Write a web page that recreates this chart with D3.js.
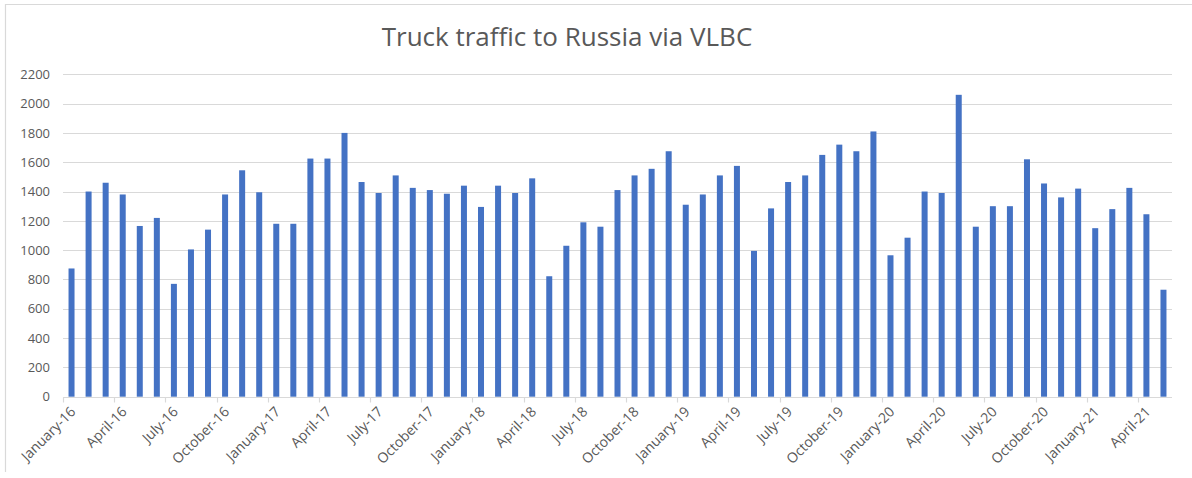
<!DOCTYPE html>
<html>
<head>
<meta charset="utf-8">
<script src="https://cdn.jsdelivr.net/npm/d3@7"></script>
<style>
  html, body { margin: 0; padding: 0; background: #fff; }
  svg { display: block; }
</style>
</head>
<body>
<svg id="chart" width="1192" height="478"></svg>
<script>
const title = "Truck traffic to Russia via VLBC";
const monthNames = ["January","February","March","April","May","June","July","August","September","October","November","December"];
const years = ["16","17","18","19","20","21"];
const values = [
  875, 1400, 1460, 1380, 1165, 1220, 770, 1005, 1140, 1380, 1545, 1395,
  1180, 1180, 1625, 1625, 1800, 1465, 1390, 1510, 1425, 1410, 1385, 1440,
  1295, 1440, 1390, 1490, 822, 1030, 1190, 1160, 1410, 1510, 1555, 1675,
  1310, 1380, 1510, 1575, 995, 1285, 1465, 1510, 1650, 1720, 1675, 1810,
  965, 1085, 1400, 1390, 2060, 1160, 1300, 1300, 1620, 1455, 1360, 1420,
  1150, 1280, 1425, 1245, 730
];
const yTicks = [0, 200, 400, 600, 800, 1000, 1200, 1400, 1600, 1800, 2000, 2200];

const categories = values.map((v, i) => monthNames[i % 12] + "-" + years[Math.floor(i / 12)]);
const data = categories.map((c, i) => ({ cat: c, value: values[i] }));

const svg = d3.select("#chart");
const W = 1192, H = 478;
const plot = { left: 63, right: 1172, top: 74.3, bottom: 396.7 };
const font = "'Open Sans', sans-serif";
const textColor = "#595959";
const gridColor = "#d9d9d9";

// outer border (top and left visible)
svg.append("line").attr("x1", 5).attr("x2", W).attr("y1", 4.5).attr("y2", 4.5)
  .attr("stroke", gridColor).attr("stroke-width", 1.2);
svg.append("line").attr("x1", 5.5).attr("x2", 5.5).attr("y1", 4).attr("y2", 472)
  .attr("stroke", gridColor).attr("stroke-width", 1.2);

// title
svg.append("text").attr("x", 567).attr("y", 46)
  .attr("text-anchor", "middle")
  .attr("font-family", font).attr("font-size", 26)
  .attr("fill", textColor).text(title);

const x = d3.scaleBand().domain(categories).range([plot.left, plot.right]).paddingInner(0).paddingOuter(0);
const y = d3.scaleLinear().domain([0, 2200]).range([plot.bottom, plot.top]);

// gridlines
svg.append("g").selectAll("line").data(yTicks.filter(t => t > 0)).join("line")
  .attr("x1", plot.left).attr("x2", plot.right)
  .attr("y1", d => Math.round(y(d)) + 0.5).attr("y2", d => Math.round(y(d)) + 0.5)
  .attr("stroke", gridColor).attr("stroke-width", 1.2);

// y axis labels
const yAxis = d3.axisLeft(y).tickValues(yTicks).tickFormat(d3.format("d")).tickSize(0).tickPadding(13);
const gy = svg.append("g").attr("transform", `translate(${plot.left},0)`).call(yAxis);
gy.select(".domain").remove();
gy.selectAll("text").attr("font-family", font).attr("font-size", 13).attr("fill", textColor);

// bars
const bw = 6;
svg.append("g").selectAll("rect").data(data).join("rect")
  .attr("x", d => x(d.cat) + x.bandwidth() / 2 - bw / 2)
  .attr("width", bw)
  .attr("y", d => y(d.value))
  .attr("height", d => y(0) - y(d.value))
  .attr("fill", "#4472c4");

// x axis baseline and ticks at group boundaries
svg.append("line").attr("x1", plot.left).attr("x2", plot.right)
  .attr("y1", Math.round(y(0)) + 0.5).attr("y2", Math.round(y(0)) + 0.5)
  .attr("stroke", gridColor).attr("stroke-width", 1.2);
const tickCats = categories.filter((c, i) => i % 3 === 0);
svg.append("g").selectAll("line").data(tickCats).join("line")
  .attr("x1", d => Math.round(x(d)) + 0.5).attr("x2", d => Math.round(x(d)) + 0.5)
  .attr("y1", Math.round(y(0)) + 0.5).attr("y2", Math.round(y(0)) + 5.5)
  .attr("stroke", gridColor).attr("stroke-width", 1.2);

// x labels (every 3rd category), rotated -45
svg.append("g").selectAll("text").data(tickCats).join("text")
  .attr("transform", d => `translate(${x(d) + x.bandwidth() / 2 + 5},${y(0) + 16}) rotate(-45)`)
  .attr("text-anchor", "end")
  .attr("font-family", font).attr("font-size", 14)
  .attr("fill", textColor)
  .text(d => d);
</script>
</body>
</html>
